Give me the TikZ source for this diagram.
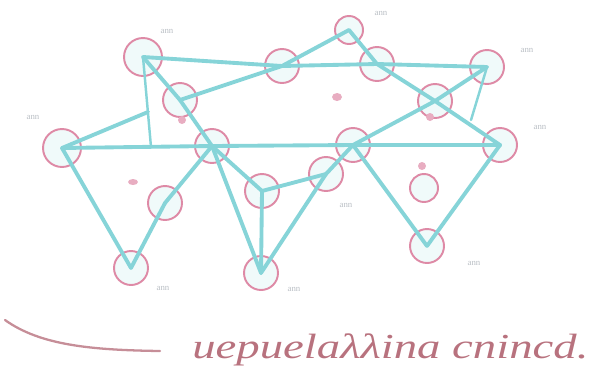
\documentclass[tikz,border=0pt]{standalone}
\usepackage{fontspec}
\setmainfont{Liberation Serif}
\usepackage{xcolor}
\usepackage{graphicx}
\definecolor{bondcyan}{HTML}{86D4D8}
\definecolor{atompink}{HTML}{DE8AA6}
\definecolor{inkbrown}{HTML}{B8727E}
\definecolor{faintgray}{HTML}{B9BEC4}
\tikzset{
  atom/.style={circle, draw=atompink, line width=1.1pt, fill=bondcyan!12, minimum size=0.68cm, inner sep=0pt},
  small atom/.style={atom, minimum size=0.56cm},
  bond/.style={draw=bondcyan, line width=2.2pt, line cap=round},
  thin bond/.style={draw=bondcyan, line width=1.4pt, line cap=round},
  tag/.style={font=\tiny, text=faintgray, inner sep=0pt},
  smudge/.style={fill=atompink!70, draw=none},
}

\begin{document}
\begin{tikzpicture}[x=0.02cm, y=-0.02cm]
\useasboundingbox (0,0) rectangle (590,379);

% atoms
\node[atom, minimum size=0.76cm] (A) at (143,57) {};
\node[atom] (B) at (282,66) {};
\node[small atom] (C) at (349,30) {};
\node[atom] (D) at (377,64) {};
\node[atom] (E) at (487,67) {};
\node[atom] (F) at (180,100) {};
\node[atom] (G) at (435,101) {};
\node[atom, minimum size=0.76cm] (H) at (62,148) {};
\node[atom] (I) at (212,146) {};
\node[atom] (J) at (353,145) {};
\node[atom] (K) at (500,145) {};
\node[atom] (L) at (326,174) {};
\node[atom] (M) at (262,191) {};
\node[atom] (N) at (165,203) {};
\node[small atom] (O) at (424,188) {};
\node[atom] (P) at (131,268) {};
\node[atom] (Q) at (261,273) {};
\node[atom] (R) at (427,246) {};

\coordinate (ahi) at (151,147);
\coordinate (hf) at (148,112);
\coordinate (egk) at (471,120);

% bonds
\draw[bond] (A.center) -- (B.center);
\draw[bond] (A.center) -- (F.center);
\draw[bond] (F.center) -- (B.center);
\draw[bond] (B.center) -- (C.center);
\draw[bond] (C.center) -- (D.center);
\draw[bond] (B.center) -- (D.center);
\draw[bond] (D.center) -- (E.center);
\draw[bond] (D.center) -- (G.center);
\draw[bond] (E.center) -- (G.center);
\draw[bond] (G.center) -- (J.center);
\draw[bond] (G.center) -- (K.center);
\draw[thin bond] (E.center) -- (egk);
\draw[bond] (H.center) -- (hf);
\draw[bond] (H.center) -- (I.center);
\draw[bond] (I.center) -- (J.center);
\draw[bond] (J.center) -- (K.center);
\draw[thin bond] (A.center) -- (ahi);
\draw[bond] (F.center) -- (I.center);
\draw[bond] (I.center) -- (M.center);
\draw[bond] (I.center) -- (Q.center);
\draw[bond] (N.center) -- (I.center);
\draw[bond] (H.center) -- (P.center);
\draw[bond] (N.center) -- (P.center);
\draw[bond] (M.center) -- (L.center);
\draw[bond] (L.center) -- (J.center);
\draw[bond] (L.center) -- (Q.center);
\draw[bond] (M.center) -- (Q.center);
\draw[bond] (J.center) -- (R.center);
\draw[bond] (K.center) -- (R.center);

% pencil tags
\node[tag] (tA) at (167,31) {ann};
\node[tag] (tH) at (33,117) {ann};
\node[tag] (tC) at (381,13) {ann};
\node[tag] (tE) at (527,50) {ann};
\node[tag] (tK) at (540,127) {ann};
\node[tag] (tL) at (346,205) {ann};
\node[tag] (tP) at (163,288) {ann};
\node[tag] (tQ) at (294,289) {ann};
\node[tag] (tR) at (474,263) {ann};

% smudges
\fill[smudge] (337,97) ellipse (5 and 4);
\fill[smudge] (133,182) ellipse (5 and 3);
\fill[smudge] (430,117) ellipse (4 and 4);
\fill[smudge] (422,166) ellipse (4 and 4);
\fill[smudge] (182,120) ellipse (4 and 4);

% legend
\draw[draw=inkbrown!80, line width=1.3pt, line cap=round] (5,320) .. controls (40,345) and (90,350) .. (160,351);
\node[text=inkbrown, font=\itshape\fontsize{20}{22}\selectfont, anchor=west, inner sep=0pt] (legend) at (192,350) {\scalebox{1.33}[1]{uepuelaλλina cnincd.}};

\end{tikzpicture}
\end{document}
